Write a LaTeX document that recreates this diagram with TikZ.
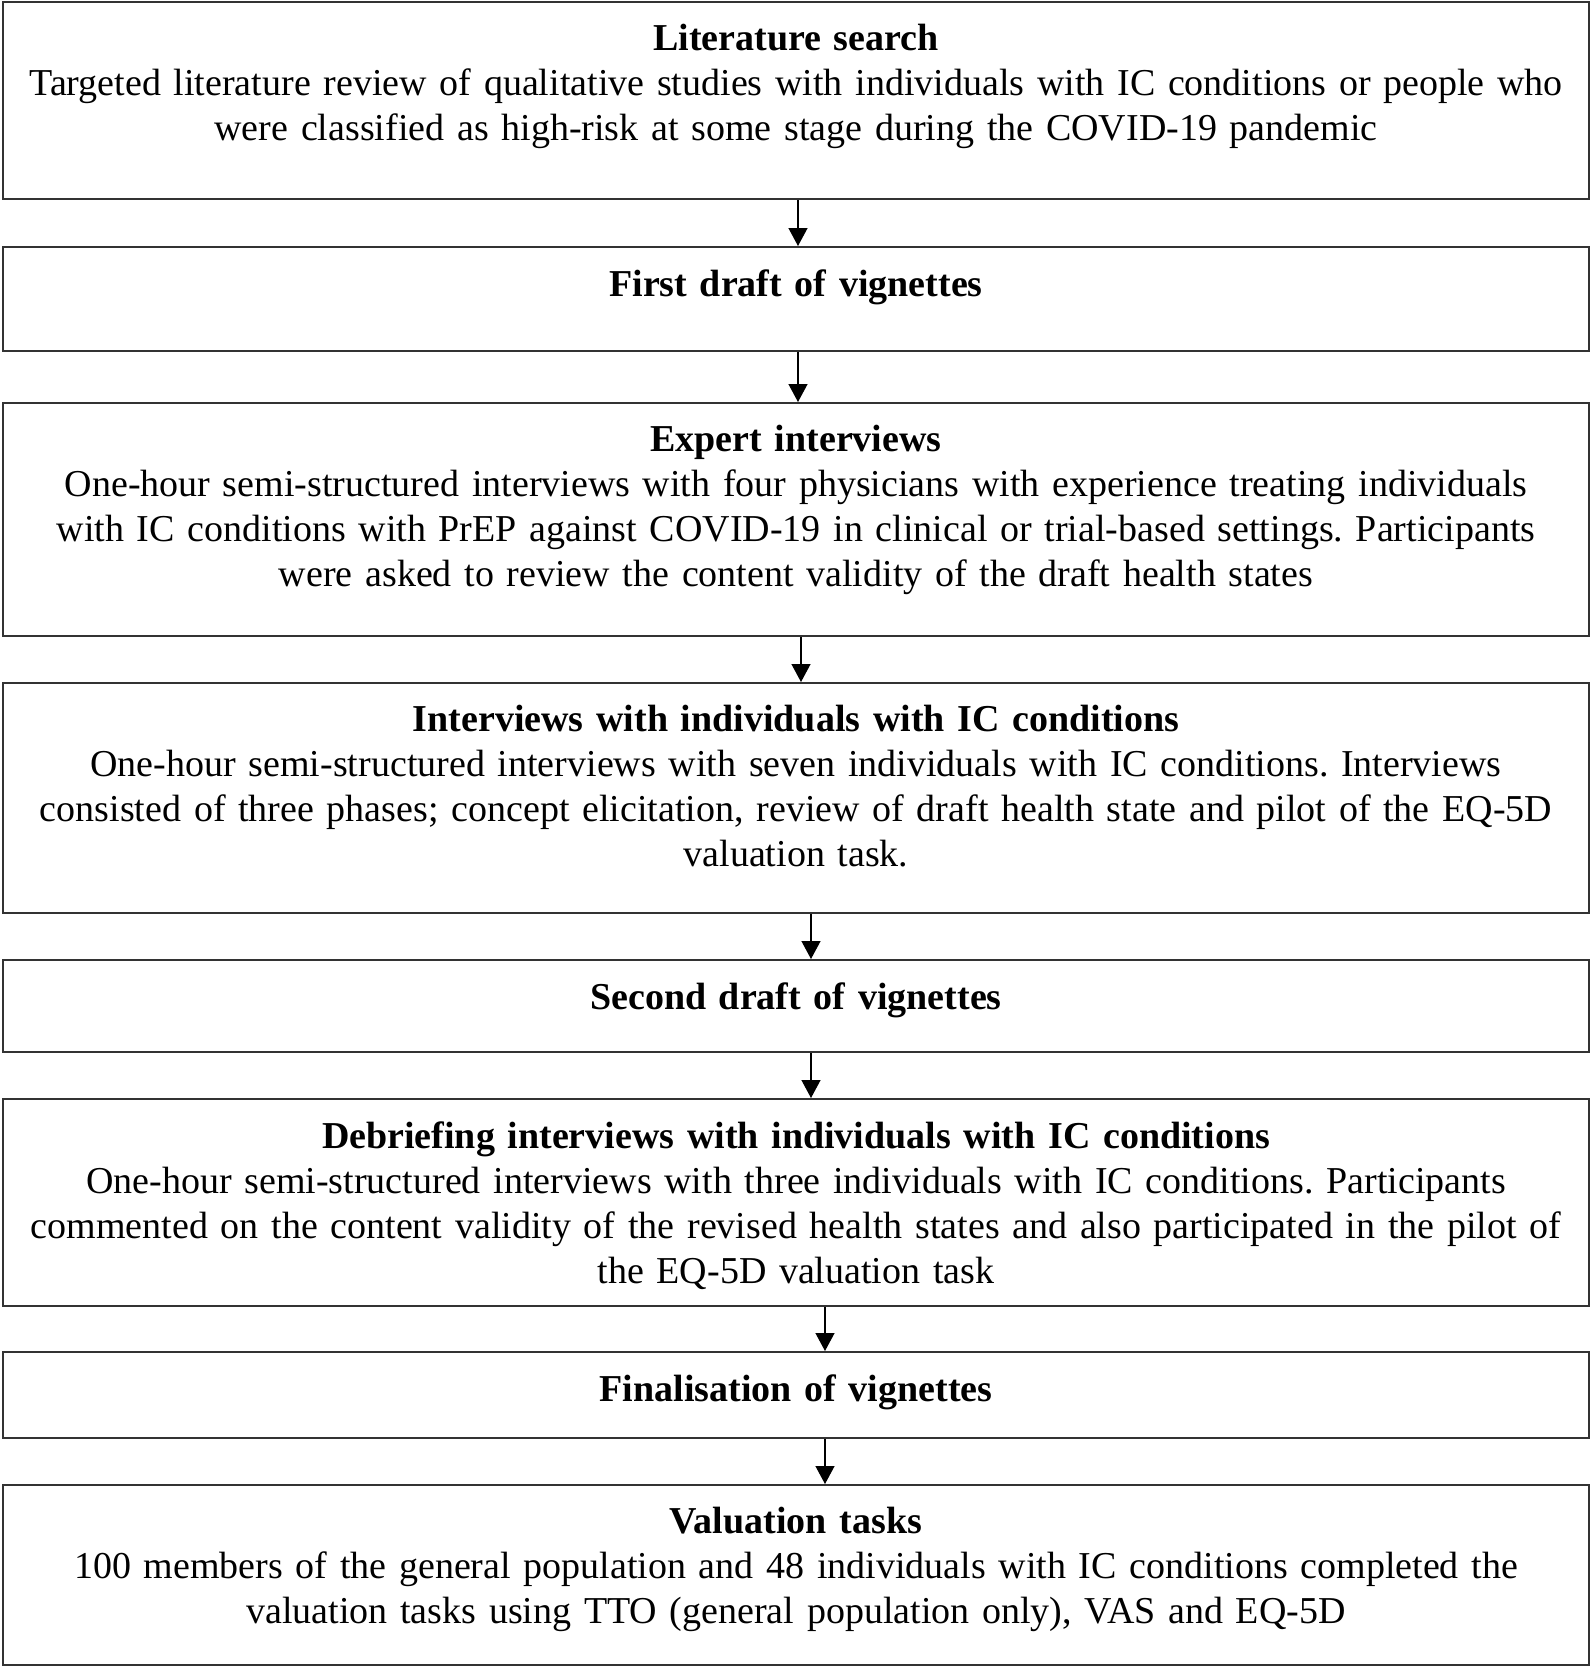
\documentclass[tikz,border=0pt]{standalone}
\usepackage{fontspec}
\setmainfont{Liberation Serif}
\usetikzlibrary{arrows.meta}
\usetikzlibrary{fit}
\frenchspacing

\tikzset{
  stage/.style={draw=black!80, line width=1pt, inner sep=0pt},
  stagetext/.style={anchor=north, text width=790pt, align=center, inner sep=0pt,
    font=\fontsize{19}{22.5}\selectfont},
  flow/.style={-{Triangle[length=9pt,width=9.5pt]}, line width=0.65pt}
}

\begin{document}
\begin{tikzpicture}[x=0.5pt,y=-0.5pt]
    \useasboundingbox (0,0) rectangle (1592,1667);
    % boxes, corners in pixels
    \node[stage, fit={(3,2) (1589,199)}] (lit) {};
    \node[stage, fit={(3,247) (1589,351)}] (draft) {};
    \node[stage, fit={(3,403) (1589,636)}] (expert) {};
    \node[stage, fit={(3,683) (1589,913)}] (patient) {};
    \node[stage, fit={(3,960) (1589,1052)}] (second) {};
    \node[stage, fit={(3,1099) (1589,1306)}] (debrief) {};
    \node[stage, fit={(3,1352) (1589,1438)}] (final) {};
    \node[stage, fit={(3,1485) (1589,1665)}] (valuation) {};
    % texts
    \node[stagetext] (littext) at ([yshift=-11.5pt]lit.north) {\textbf{Literature search}\\
      Targeted literature review of qualitative studies with individuals with IC conditions or people who\\
      were classified as high-risk at some stage during the COVID-19 pandemic};
    \node[stagetext] (drafttext) at ([yshift=-11.5pt]draft.north) {\textbf{First draft of vignettes}};
    \node[stagetext] (experttext) at ([yshift=-11.5pt]expert.north) {\textbf{Expert interviews}\\
      One-hour semi-structured interviews with four physicians with experience treating individuals\\
      with IC conditions with PrEP against COVID-19 in clinical or trial-based settings. Participants\\
      were asked to review the content validity of the draft health states};
    \node[stagetext] (patienttext) at ([yshift=-11.5pt]patient.north) {\textbf{Interviews with individuals with IC conditions}\\
      One-hour semi-structured interviews with seven individuals with IC conditions. Interviews\\
      consisted of three phases; concept elicitation, review of draft health state and pilot of the EQ-5D\\
      valuation task.};
    \node[stagetext] (secondtext) at ([yshift=-11.5pt]second.north) {\textbf{Second draft of vignettes}};
    \node[stagetext] (debrieftext) at ([yshift=-11.5pt]debrief.north) {\textbf{Debriefing interviews with individuals with IC conditions}\\
      One-hour semi-structured interviews with three individuals with IC conditions. Participants\\
      commented on the content validity of the revised health states and also participated in the pilot of\\
      the EQ-5D valuation task};
    \node[stagetext] (finaltext) at ([yshift=-11.5pt]final.north) {\textbf{Finalisation of vignettes}};
    \node[stagetext] (valuationtext) at ([yshift=-11.5pt]valuation.north) {\textbf{Valuation tasks}\\
      100 members of the general population and 48 individuals with IC conditions completed the\\
      valuation tasks using TTO (general population only), VAS and EQ-5D};
    % arrows
    \foreach \a/\b/\s in {lit/draft/1pt, draft/expert/1pt, expert/patient/2.5pt,
      patient/second/7.5pt, second/debrief/7.5pt, debrief/final/14.5pt, final/valuation/14.5pt}
    {
      \draw[flow] ([xshift=\s]\a.south) -- ([xshift=\s]\b.north);
    }
\end{tikzpicture}
\end{document}
